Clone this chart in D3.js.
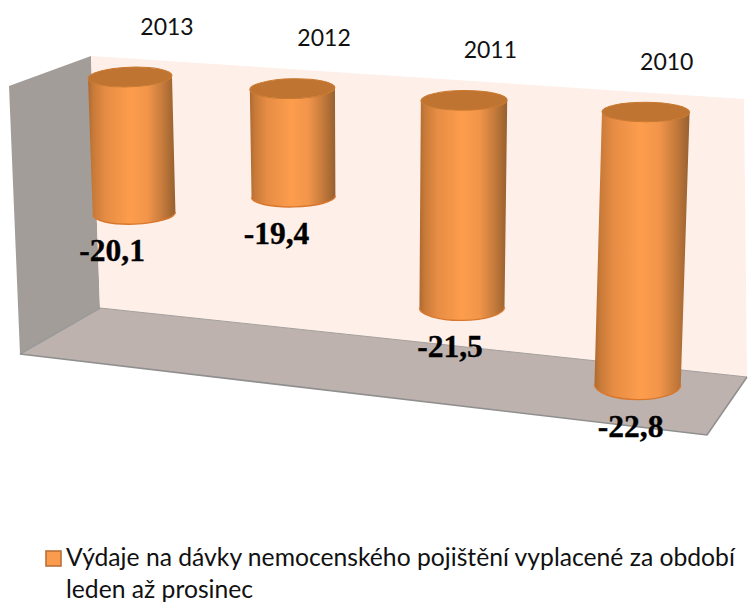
<!DOCTYPE html>
<html><head><meta charset="utf-8">
<script src="https://cdn.jsdelivr.net/npm/d3@7"></script>
<style>html,body{margin:0;padding:0;background:#fff}svg{display:block}</style>
</head><body><svg id="c" width="748" height="604"></svg>
<script>
const categories = ["2013","2012","2011","2010"];
const values = [-20.1,-19.4,-21.5,-22.8];
const valueLabels = ["-20,1","-19,4","-21,5","-22,8"];
const seriesLines = ["Výdaje na dávky nemocenského pojištění vyplacené za období","leden až prosinec"];

const svg = d3.select("#c");
const W = 748, H = 604;

// Walls of the 3-D box
const sideWall = [[9,86],[91,56],[100,308],[20,354]];
const backWall = [[91,56],[744,99],[747,377],[100,308]];
const floor = [[100,308],[747,377],[707,435],[20,354]];
const poly = d3.line();

svg.append("path").attr("d", poly(sideWall)+"Z").attr("fill","#a39d9a");
svg.append("path").attr("d", poly(backWall)+"Z").attr("fill","#feefe9");
svg.append("path").attr("d", poly(floor)+"Z").attr("fill","#bdb2ae");
svg.append("path").attr("d", poly([floor[3],floor[0]])).attr("stroke","#9a9a9a").attr("stroke-width",1.5).attr("fill","none");
svg.append("path").attr("d", poly([floor[0],floor[1]])).attr("stroke","#a5a09c").attr("stroke-width",1).attr("fill","none");
svg.append("path").attr("d", poly([floor[1],floor[2],floor[3]])).attr("stroke","#8f8f8f").attr("stroke-width",1.6).attr("fill","none");

// Perspective model
const idx = d3.scaleLinear().domain([0,3]);
const persp = i => 1/(1-0.027*i);
const xC = i => 130 + 158*i*persp(i);
const topY = idx.copy().range([77,112]);
const valueBase = -17;
const unit = idx.copy().range([44,47]);
const barLen = (v,i) => (valueBase - v)*unit(i);
const lean = idx.copy().range([0.03,-0.03]);
const tilt = idx.copy().range([-2,0.3]);
const halfW = i => 42*Math.sqrt(persp(i));
const bottomRy = d3.scaleLinear().domain([198,385]).range([10.3,15]);
const topRy = 9.8;
const labelDx = idx.copy().range([-22,-7]);
const yearDx = idx.copy().range([37,21]);

// gradients
const defs = svg.append("defs");
const g = defs.append("linearGradient").attr("id","cyl").attr("x1","0").attr("x2","1").attr("y1","0").attr("y2","0");
[[0,"#ad6a30"],[0.06,"#c87a38"],[0.2,"#e68c45"],[0.48,"#fd9d4c"],[0.68,"#f2954a"],[0.85,"#c67b3c"],[1,"#96602f"]]
  .forEach(d=>g.append("stop").attr("offset",d[0]).attr("stop-color",d[1]));

const bars = svg.append("g").selectAll("g").data(values).join("g");
bars.each(function(v,i){
  const sel = d3.select(this);
  const cx = xC(i), ty = topY(i), len = barLen(v,i);
  const bx = cx + lean(i)*len, by = ty + len;
  const hw = halfW(i), bhw = hw*0.985, bry = bottomRy(by), a = tilt(i);
  const rad = a*Math.PI/180, s = Math.sin(rad), c = Math.cos(rad);
  const tl=[cx-hw*c,ty-hw*s], tr=[cx+hw*c,ty+hw*s], bl=[bx-bhw*c,by-bhw*s], br=[bx+bhw*c,by+bhw*s];
  sel.append("path")
    .attr("d",`M${tl}L${bl}A${bhw},${bry} ${a} 0 0 ${br}L${tr}A${hw},${topRy} ${a} 0 1 ${tl}Z`)
    .attr("fill","url(#cyl)");
  // bottom rim
  sel.append("path")
    .attr("d",`M${bl}A${bhw},${bry} ${a} 0 0 ${br}`)
    .attr("fill","none").attr("stroke","#d9772d").attr("stroke-width",1.4);
  // top cap
  sel.append("ellipse").attr("rx",hw).attr("ry",topRy)
    .attr("transform",`translate(${cx},${ty}) rotate(${a})`)
    .attr("fill","#bf7431").attr("stroke","#c9792f").attr("stroke-width",1);
  // value label
  svg.append("text").attr("x",bx+labelDx(i)).attr("y",by+bry+37)
    .attr("text-anchor","middle")
    .attr("font-family","'Liberation Serif',serif").attr("font-weight","bold")
    .attr("font-size",31.5).attr("fill","#000").attr("stroke","#000").attr("stroke-width",0.35).text(valueLabels[i]);
  // year label
  svg.append("text").attr("x",cx+yearDx(i)).attr("y",ty-42.5)
    .attr("text-anchor","middle")
    .attr("font-family","Lato,sans-serif").attr("font-size",23).attr("fill","#111").text(categories[i]);
});

// legend
svg.append("rect").attr("x",46).attr("y",551).attr("width",15).attr("height",15)
  .attr("fill","#fb9b4e").attr("stroke","#b9703a").attr("stroke-width",1.6);
seriesLines.forEach((t,i)=>svg.append("text").attr("x",66).attr("y",566+32*i)
  .attr("font-family","Lato,sans-serif").attr("font-size",24.7).attr("fill","#111").text(t));
</script></body></html>
